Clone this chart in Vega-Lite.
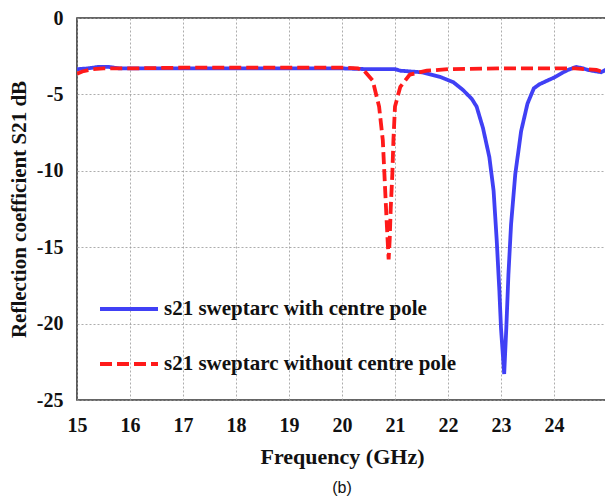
{
  "$schema": "https://vega.github.io/schema/vega-lite/v6.json",
  "autosize": {"type": "none"},
  "padding": {"left": 77, "top": 18, "right": 0, "bottom": 102},
  "width": 530,
  "height": 382,
  "background": "white",
  "config": {
    "view": {"stroke": "#333333", "strokeWidth": 1.6},
    "axis": {
      "labelFont": "Liberation Serif", "labelFontWeight": "bold", "labelFontSize": 20, "labelColor": "#111",
      "titleFont": "Liberation Serif", "titleFontWeight": "bold", "titleColor": "#111",
      "gridColor": "#999999", "gridDash": [2, 2], "gridWidth": 1, "gridOpacity": 0.8,
      "domain": false, "ticks": false
    }
  },
  "title": {"text": "(b)", "orient": "bottom", "anchor": "middle", "frame": "group", "font": "Liberation Sans", "fontSize": 16, "fontWeight": "normal", "color": "#111", "offset": 13},
  "data": {"values": [
    {"f": 15.0, "v": -3.35, "s": "s21 sweptarc with centre pole"},
    {"f": 15.2, "v": -3.3, "s": "s21 sweptarc with centre pole"},
    {"f": 15.4, "v": -3.2, "s": "s21 sweptarc with centre pole"},
    {"f": 15.6, "v": -3.2, "s": "s21 sweptarc with centre pole"},
    {"f": 15.8, "v": -3.3, "s": "s21 sweptarc with centre pole"},
    {"f": 16.0, "v": -3.3, "s": "s21 sweptarc with centre pole"},
    {"f": 17.0, "v": -3.3, "s": "s21 sweptarc with centre pole"},
    {"f": 18.0, "v": -3.3, "s": "s21 sweptarc with centre pole"},
    {"f": 19.0, "v": -3.3, "s": "s21 sweptarc with centre pole"},
    {"f": 20.0, "v": -3.3, "s": "s21 sweptarc with centre pole"},
    {"f": 20.5, "v": -3.35, "s": "s21 sweptarc with centre pole"},
    {"f": 21.0, "v": -3.35, "s": "s21 sweptarc with centre pole"},
    {"f": 21.1, "v": -3.45, "s": "s21 sweptarc with centre pole"},
    {"f": 21.5, "v": -3.55, "s": "s21 sweptarc with centre pole"},
    {"f": 21.85, "v": -3.85, "s": "s21 sweptarc with centre pole"},
    {"f": 22.1, "v": -4.2, "s": "s21 sweptarc with centre pole"},
    {"f": 22.28, "v": -4.7, "s": "s21 sweptarc with centre pole"},
    {"f": 22.45, "v": -5.3, "s": "s21 sweptarc with centre pole"},
    {"f": 22.54, "v": -5.8, "s": "s21 sweptarc with centre pole"},
    {"f": 22.66, "v": -7.2, "s": "s21 sweptarc with centre pole"},
    {"f": 22.78, "v": -9.1, "s": "s21 sweptarc with centre pole"},
    {"f": 22.86, "v": -11.3, "s": "s21 sweptarc with centre pole"},
    {"f": 22.92, "v": -14.6, "s": "s21 sweptarc with centre pole"},
    {"f": 22.97, "v": -17.9, "s": "s21 sweptarc with centre pole"},
    {"f": 23.0, "v": -20.3, "s": "s21 sweptarc with centre pole"},
    {"f": 23.06, "v": -23.3, "s": "s21 sweptarc with centre pole"},
    {"f": 23.1, "v": -20.3, "s": "s21 sweptarc with centre pole"},
    {"f": 23.14, "v": -16.8, "s": "s21 sweptarc with centre pole"},
    {"f": 23.19, "v": -13.5, "s": "s21 sweptarc with centre pole"},
    {"f": 23.27, "v": -10.2, "s": "s21 sweptarc with centre pole"},
    {"f": 23.38, "v": -7.4, "s": "s21 sweptarc with centre pole"},
    {"f": 23.5, "v": -5.6, "s": "s21 sweptarc with centre pole"},
    {"f": 23.62, "v": -4.6, "s": "s21 sweptarc with centre pole"},
    {"f": 23.72, "v": -4.35, "s": "s21 sweptarc with centre pole"},
    {"f": 23.81, "v": -4.2, "s": "s21 sweptarc with centre pole"},
    {"f": 24.0, "v": -3.9, "s": "s21 sweptarc with centre pole"},
    {"f": 24.15, "v": -3.6, "s": "s21 sweptarc with centre pole"},
    {"f": 24.26, "v": -3.4, "s": "s21 sweptarc with centre pole"},
    {"f": 24.42, "v": -3.2, "s": "s21 sweptarc with centre pole"},
    {"f": 24.55, "v": -3.3, "s": "s21 sweptarc with centre pole"},
    {"f": 24.64, "v": -3.4, "s": "s21 sweptarc with centre pole"},
    {"f": 24.8, "v": -3.5, "s": "s21 sweptarc with centre pole"},
    {"f": 24.89, "v": -3.55, "s": "s21 sweptarc with centre pole"},
    {"f": 25.0, "v": -3.35, "s": "s21 sweptarc with centre pole"},
    {"f": 15.0, "v": -3.65, "s": "s21 sweptarc without centre pole"},
    {"f": 15.1, "v": -3.5, "s": "s21 sweptarc without centre pole"},
    {"f": 15.3, "v": -3.35, "s": "s21 sweptarc without centre pole"},
    {"f": 15.5, "v": -3.3, "s": "s21 sweptarc without centre pole"},
    {"f": 16.0, "v": -3.3, "s": "s21 sweptarc without centre pole"},
    {"f": 17.0, "v": -3.25, "s": "s21 sweptarc without centre pole"},
    {"f": 18.0, "v": -3.25, "s": "s21 sweptarc without centre pole"},
    {"f": 19.0, "v": -3.25, "s": "s21 sweptarc without centre pole"},
    {"f": 20.0, "v": -3.25, "s": "s21 sweptarc without centre pole"},
    {"f": 20.3, "v": -3.3, "s": "s21 sweptarc without centre pole"},
    {"f": 20.42, "v": -3.45, "s": "s21 sweptarc without centre pole"},
    {"f": 20.58, "v": -4.1, "s": "s21 sweptarc without centre pole"},
    {"f": 20.7, "v": -5.8, "s": "s21 sweptarc without centre pole"},
    {"f": 20.77, "v": -8.0, "s": "s21 sweptarc without centre pole"},
    {"f": 20.8, "v": -10.2, "s": "s21 sweptarc without centre pole"},
    {"f": 20.83, "v": -12.4, "s": "s21 sweptarc without centre pole"},
    {"f": 20.86, "v": -14.5, "s": "s21 sweptarc without centre pole"},
    {"f": 20.88, "v": -15.8, "s": "s21 sweptarc without centre pole"},
    {"f": 20.9, "v": -14.5, "s": "s21 sweptarc without centre pole"},
    {"f": 20.92, "v": -12.4, "s": "s21 sweptarc without centre pole"},
    {"f": 20.95, "v": -10.2, "s": "s21 sweptarc without centre pole"},
    {"f": 20.97, "v": -8.0, "s": "s21 sweptarc without centre pole"},
    {"f": 21.0, "v": -5.8, "s": "s21 sweptarc without centre pole"},
    {"f": 21.1, "v": -4.5, "s": "s21 sweptarc without centre pole"},
    {"f": 21.28, "v": -3.7, "s": "s21 sweptarc without centre pole"},
    {"f": 21.6, "v": -3.45, "s": "s21 sweptarc without centre pole"},
    {"f": 22.0, "v": -3.35, "s": "s21 sweptarc without centre pole"},
    {"f": 23.0, "v": -3.3, "s": "s21 sweptarc without centre pole"},
    {"f": 24.0, "v": -3.3, "s": "s21 sweptarc without centre pole"},
    {"f": 24.4, "v": -3.3, "s": "s21 sweptarc without centre pole"},
    {"f": 24.6, "v": -3.35, "s": "s21 sweptarc without centre pole"},
    {"f": 24.8, "v": -3.4, "s": "s21 sweptarc without centre pole"},
    {"f": 24.9, "v": -3.5, "s": "s21 sweptarc without centre pole"},
    {"f": 25.0, "v": -3.4, "s": "s21 sweptarc without centre pole"}
  ]},
  "mark": {"type": "line", "strokeWidth": 3.8, "clip": true},
  "encoding": {
    "x": {"field": "f", "type": "quantitative", "scale": {"domain": [15, 25], "nice": false},
      "axis": {"title": "Frequency (GHz)", "titleFontSize": 22, "values": [15, 16, 17, 18, 19, 20, 21, 22, 23, 24], "labelPadding": 15, "titlePadding": 11, "labelFlush": false, "labelExpr": "'' + datum.value"}},
    "y": {"field": "v", "type": "quantitative", "scale": {"domain": [-25, 0], "nice": false},
      "axis": {"title": "Reflection coefficient S21 dB", "titleFontSize": 21, "values": [0, -5, -10, -15, -20, -25], "labelPadding": 14, "titlePadding": 7, "labelFlush": false, "labelExpr": "'' + datum.value"}},
    "color": {"field": "s", "type": "nominal",
      "scale": {"domain": ["s21 sweptarc with centre pole", "s21 sweptarc without centre pole"], "range": ["#4040f5", "#ff1a1a"]},
      "legend": {"title": null, "orient": "none", "legendX": 21, "legendY": 260, "symbolType": "stroke", "symbolSize": 3364, "symbolStrokeWidth": 3.8, "rowPadding": 14, "padding": 0, "labelFont": "Liberation Serif", "labelFontWeight": "bold", "labelFontSize": 21, "labelColor": "#111", "labelOffset": 4, "labelLimit": 500}},
    "strokeDash": {"field": "s", "type": "nominal",
      "scale": {"domain": ["s21 sweptarc with centre pole", "s21 sweptarc without centre pole"], "range": [[1, 0], [12, 5]]},
      "legend": {"title": null, "orient": "none", "legendX": 21, "legendY": 260, "symbolType": "stroke", "symbolSize": 3364, "symbolStrokeWidth": 3.8, "rowPadding": 14, "padding": 0, "labelFont": "Liberation Serif", "labelFontWeight": "bold", "labelFontSize": 21, "labelColor": "#111", "labelOffset": 4, "labelLimit": 500}}
  }
}
